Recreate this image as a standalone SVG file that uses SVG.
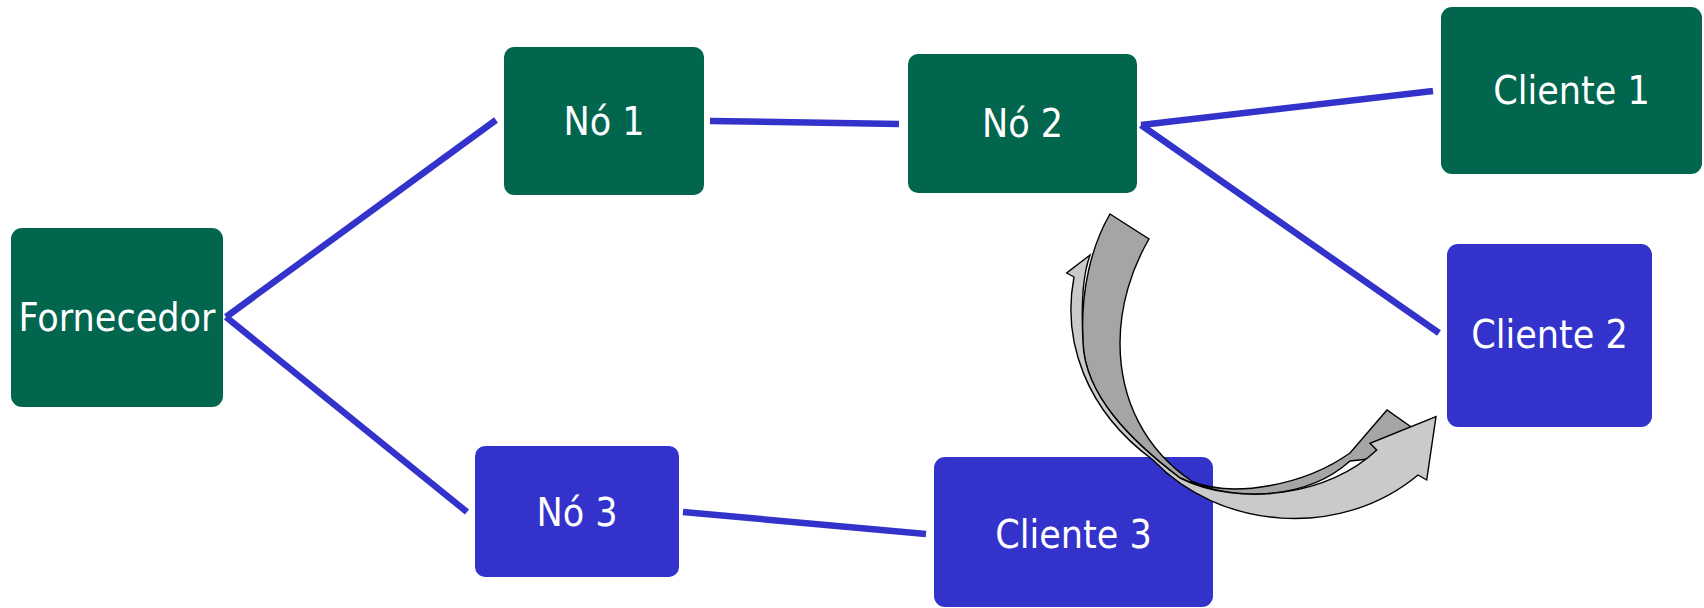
<svg xmlns="http://www.w3.org/2000/svg" width="1704" height="608" viewBox="0 0 1704 608">
<style>
.g{fill:#02664f}
.b{fill:#3333cc}
.t{fill:#ffffff;font-family:"DejaVu Sans Condensed","DejaVu Sans",sans-serif;font-stretch:condensed;font-size:39px;text-anchor:middle}
.c{stroke:#3333cc;stroke-width:6.5;fill:none}
.ad{fill:#a5a5a7;stroke:#000;stroke-width:1.4;stroke-linejoin:miter}
.al{fill:#cacacc;stroke:#000;stroke-width:1.4;stroke-linejoin:miter}
</style>
<rect width="1704" height="608" fill="#ffffff"/>
<g id="connectors">
<line class="c" x1="226" y1="317" x2="496" y2="120"/>
<line class="c" x1="226" y1="317" x2="467" y2="512"/>
<line class="c" x1="710" y1="121" x2="899" y2="124"/>
<line class="c" x1="1141" y1="125" x2="1433" y2="91"/>
<line class="c" x1="1141" y1="125" x2="1439" y2="333"/>
<line class="c" x1="683" y1="512" x2="926" y2="534"/>
</g>
<g id="fornecedor"><rect class="g" x="11" y="228" width="212" height="179" rx="11"/><text class="t" x="117" y="331">Fornecedor</text></g>
<g id="no1"><rect class="g" x="504" y="47" width="200" height="148" rx="10"/><text class="t" x="604" y="134.5">Nó 1</text></g>
<g id="no2"><rect class="g" x="908" y="54" width="229" height="139" rx="10"/><text class="t" x="1022.5" y="136.5">Nó 2</text></g>
<g id="no3"><rect class="b" x="475" y="446" width="204" height="131" rx="10"/><text class="t" x="577" y="525.5">Nó 3</text></g>
<g id="cliente1"><rect class="g" x="1441" y="7" width="261" height="167" rx="11"/><text class="t" x="1571.5" y="103.5">Cliente 1</text></g>
<g id="cliente2"><rect class="b" x="1447" y="244" width="205" height="183" rx="11"/><text class="t" x="1549.5" y="348">Cliente 2</text></g>
<g id="cliente3"><rect class="b" x="934" y="457" width="279" height="150" rx="11"/><text class="t" x="1073.5" y="547.5">Cliente 3</text></g>
<g id="curved-arrow">
<path class="ad" d="M1110,214 L1149,239 C1132,268 1120,305 1120,343 C1120,400 1145,450 1193,482 C1235,498 1305,485 1350,453 L1387,410 L1414,429 L1426,445 L1378,458 L1350,461 C1310,497 1240,505 1180,478 C1130,440 1085,395 1083,343 C1080,290 1092,245 1110,214 Z"/>
<path class="al" d="M1090,255 L1066.7,273 L1074,277 C1062,340 1085,410 1153,460 C1220,530 1340,540 1418,475 L1426.7,480 L1436,416.7 L1370,443.3 L1376.7,450 C1330,495 1240,508 1180,478 C1130,440 1085,395 1083,343 C1081,300 1083,275 1090,255 Z"/>
</g>
</svg>
